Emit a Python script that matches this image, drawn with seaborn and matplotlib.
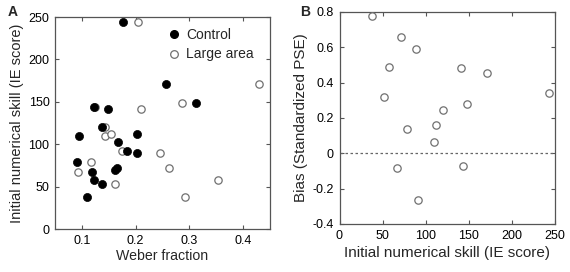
import matplotlib
matplotlib.use("Agg")
import matplotlib.pyplot as plt
import seaborn as sns
import pandas as pd
from matplotlib.lines import Line2D

# Panel A data
control_weber = [0.177, 0.257, 0.313, 0.122, 0.149, 0.137, 0.094, 0.203, 0.168,
                 0.184, 0.203, 0.091, 0.119, 0.166, 0.162, 0.122, 0.137, 0.110]
control_ie = [244, 171, 148, 144, 141, 120, 110, 112, 103,
              92, 90, 79, 67, 72, 70, 57.6, 52.8, 38]
large_weber = [0.204, 0.430, 0.286, 0.125, 0.210, 0.143, 0.143, 0.154,
               0.175, 0.245, 0.262, 0.117, 0.093, 0.162, 0.353, 0.291]
large_ie = [244, 171.5, 148, 144, 141, 120, 110, 112,
            92, 90, 72, 79, 67, 53, 57.6, 38]

# Panel B data
skill_b = [38, 57, 52, 72, 89.5, 79, 67, 91.5, 109.5, 112.4, 120.6, 140.7, 143.5, 147.7, 171.4, 244]
bias_b = [0.777, 0.49, 0.32, 0.658, 0.589, 0.14, -0.081, -0.262, 0.064, 0.162, 0.245,
          0.485, -0.072, 0.28, 0.455, 0.342]

xticks_a = [0.1, 0.2, 0.3, 0.4]
yticks_a = [0, 50, 100, 150, 200, 250]
xticks_b = [0, 50, 100, 150, 200, 250]
yticks_b = [-0.4, -0.2, 0, 0.2, 0.4, 0.6, 0.8]

sns.set_theme(style="white")
plt.rcParams['font.family'] = ['Liberation Sans', 'DejaVu Sans']

spine_col = '#555555'
open_col = '#707070'

fig = plt.figure(figsize=(5.7, 2.72), dpi=100)
axA = fig.add_axes([55/570, 1-229/272, 215/570, 212/272])
axB = fig.add_axes([339.5/570, 1-224/272, 215/570, 212/272])

dfc = pd.DataFrame({'w': control_weber, 'ie': control_ie})
dfl = pd.DataFrame({'w': large_weber, 'ie': large_ie})
sns.scatterplot(data=dfl, x='w', y='ie', ax=axA, s=28, facecolor='white',
                edgecolor=open_col, linewidth=0.9, zorder=2)
sns.scatterplot(data=dfc, x='w', y='ie', ax=axA, s=34, color='black',
                edgecolor='black', linewidth=0.5, zorder=3)

dfb = pd.DataFrame({'s': skill_b, 'b': bias_b})
axB.axhline(0, color='#666666', lw=0.9, ls=(0, (2, 2)), zorder=1)
sns.scatterplot(data=dfb, x='s', y='b', ax=axB, s=28, facecolor='white',
                edgecolor=open_col, linewidth=0.9, zorder=3)

for ax in (axA, axB):
    for sp in ax.spines.values():
        sp.set_color(spine_col)
        sp.set_linewidth(0.9)
    ax.tick_params(direction='in', length=3, width=0.8, color=spine_col,
                   top=True, right=True, bottom=True, left=True,
                   labelsize=9, pad=4, labelcolor='black')

axA.set_xlim(0.05, 0.45)
axA.set_ylim(0, 250)
axA.set_xticks(xticks_a)
axA.set_xticklabels([f"{v:g}" for v in xticks_a])
axA.set_yticks(yticks_a)
axA.set_xlabel('Weber fraction', fontsize=10.2, labelpad=2)
axA.set_ylabel('Initial numerical skill (IE score)', fontsize=10.5, labelpad=3)

axB.set_xlim(0, 250)
axB.set_ylim(-0.4, 0.8)
axB.set_xticks(xticks_b)
axB.set_yticks(yticks_b)
axB.set_yticklabels([f"{v:g}" for v in yticks_b])
axB.set_xlabel('Initial numerical skill (IE score)', fontsize=11, labelpad=3)
axB.set_ylabel('Bias (Standardized PSE)', fontsize=11, labelpad=3)

handles = [Line2D([], [], ls='none', marker='o', ms=5.5, mfc='black', mec='black'),
           Line2D([], [], ls='none', marker='o', ms=5.5, mfc='white', mec=open_col, mew=0.9)]
axA.legend(handles, ['Control', 'Large area'], loc='upper left',
           bbox_to_anchor=(0.5, 0.975), frameon=False, fontsize=10,
           handlelength=0.8, handletextpad=0.5, labelspacing=0.4, borderaxespad=0)

fig.text(8/570, 1-12/272, 'A', fontsize=10, fontweight='bold', va='center', ha='left')
fig.text(300/570, 1-12/272, 'B', fontsize=10, fontweight='bold', va='center', ha='left')

fig.savefig('out.png', dpi=100)
